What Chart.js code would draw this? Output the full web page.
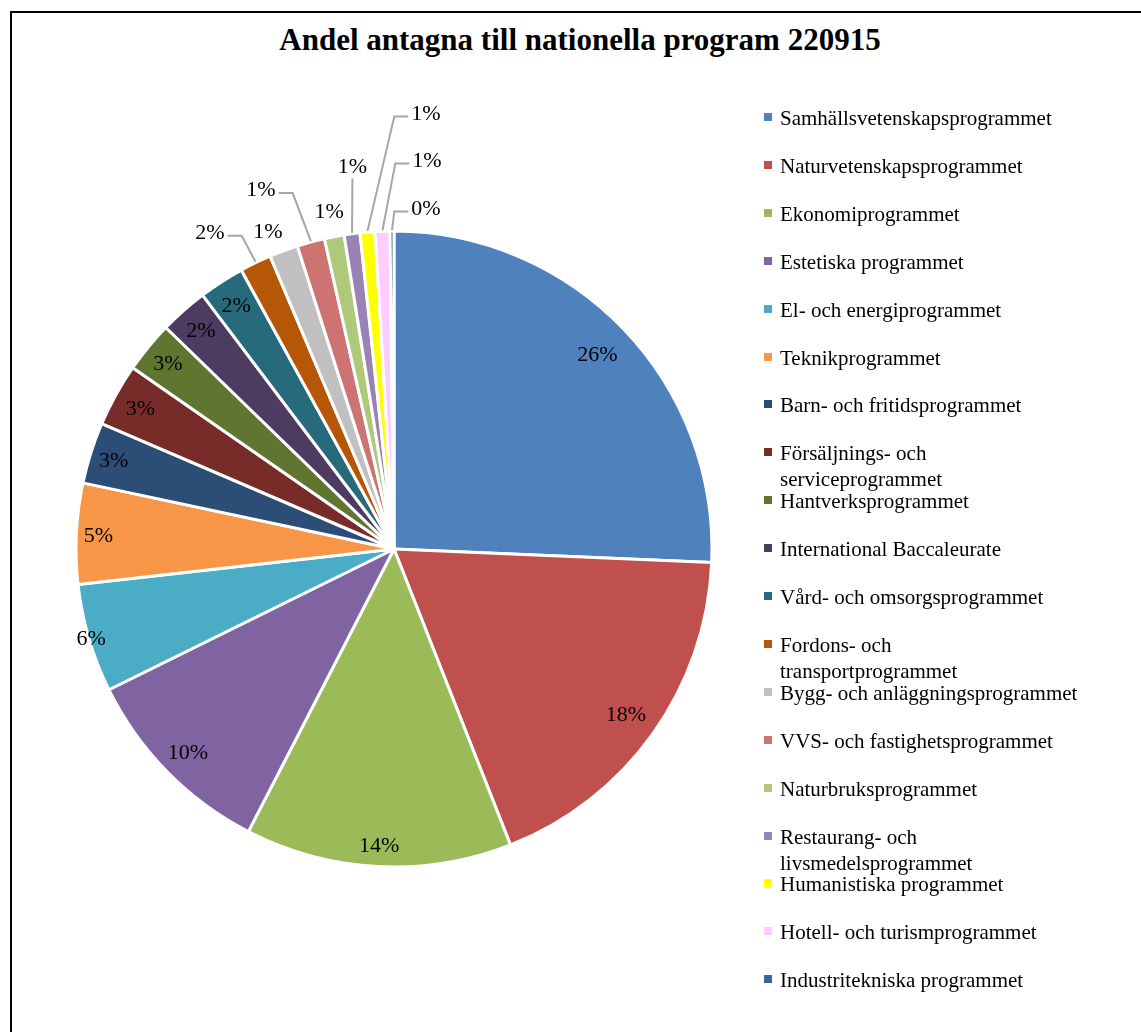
<!DOCTYPE html>
<html>
<head>
<meta charset="utf-8">
<title>Andel antagna till nationella program 220915</title>
<script src="https://cdn.jsdelivr.net/npm/chart.js@4.4.1/dist/chart.umd.min.js"></script>
<style>
  html, body { margin:0; padding:0; background:#fff; overflow:hidden; }
  body { width:1141px; height:1032px; position:relative; font-family:"Liberation Serif","Times New Roman",serif; color:#000; }
  #frame { position:absolute; left:10px; top:11px; width:1300px; height:1200px; border:2px solid #000; box-sizing:border-box; }
  #title { position:absolute; left:0; width:1160px; top:22px; text-align:center; font-weight:bold; font-size:31px; line-height:36px; white-space:nowrap; }
  #chart { position:absolute; left:0; top:0; }
  #legend { position:absolute; left:764px; top:0; }
  .item { position:absolute; left:0; white-space:nowrap; font-size:21px; line-height:26px; padding-left:16px; }
  .item i { position:absolute; left:0; top:8px; width:8px; height:8px; }
</style>
</head>
<body>
<div id="frame"></div>
<div id="title">Andel antagna till nationella program 220915</div>
<canvas id="chart" width="1141" height="1032"></canvas>
<div id="legend"></div>
<script>
/* ---------- data (share of admitted, %) ---------- */
const programs = [
  "Samhällsvetenskapsprogrammet",
  "Naturvetenskapsprogrammet",
  "Ekonomiprogrammet",
  "Estetiska programmet",
  "El- och energiprogrammet",
  "Teknikprogrammet",
  "Barn- och fritidsprogrammet",
  "Försäljnings- och serviceprogrammet",
  "Hantverksprogrammet",
  "International Baccaleurate",
  "Vård- och omsorgsprogrammet",
  "Fordons- och transportprogrammet",
  "Bygg- och anläggningsprogrammet",
  "VVS- och fastighetsprogrammet",
  "Naturbruksprogrammet",
  "Restaurang- och livsmedelsprogrammet",
  "Humanistiska programmet",
  "Hotell- och turismprogrammet",
  "Industritekniska programmet"
];
const shares = [25.6, 18.3, 13.5, 10.1, 5.5, 5.1, 3.1, 3.2, 2.6, 2.45, 2.3, 1.6, 1.45, 1.4, 1.0, 0.8, 0.75, 0.75, 0.2];

/* ---------- styles ---------- */
const colors = ['#4F81BD','#C0504D','#9BBB59','#8064A2','#4BACC6','#F79646','#2C4D75','#772C2A','#5F7530',
                '#4D3B62','#276A7C','#B65708','#C0C0C0','#CD7371','#AFC97A','#9983B5','#FFFF00','#FFCCFF','#3B6496'];
// radius factor for labels drawn inside the slices
const insideR = [0.886, 0.896, 0.931, 0.909, 0.992, 0.931, 0.925, 0.912, 0.921, 0.918, 0.915];
// small slices: label offset from the arc's outer midpoint + leader type
const callouts = {
  11: [-45.5, -31, 'h'],
  12: [-15.6, -19.8, null],
  13: [-49.8, -53, 'h'],
  14: [-5, -26, null],
  15: [0.4, -67.3, 'v'],
  16: [58.5, -119.6, 'h'],
  17: [44.5, -71.7, 'h'],
  18: [34, -23.5, 'h']
};
const legendWrap = [7, 11, 15];

/* ---------- labels plugin ---------- */
const pieLabels = {
  id: 'pieLabels',
  afterDatasetsDraw(chart){
    const ctx = chart.ctx;
    const meta = chart.getDatasetMeta(0);
    const total = shares.reduce((a,b)=>a+b, 0);
    ctx.save();
    ctx.font = '22px "Liberation Serif", serif';
    ctx.textAlign = 'center';
    ctx.textBaseline = 'alphabetic';
    ctx.fillStyle = '#000';
    meta.data.forEach((arc, i) => {
      const p = arc.getProps(['x','y','startAngle','endAngle','outerRadius'], true);
      const mid = (p.startAngle + p.endAngle) / 2;
      const txt = Math.round(shares[i] / total * 100) + '%';
      const c = callouts[i];
      if(!c){
        const r = p.outerRadius * (insideR[i] || 0.91);
        ctx.fillText(txt, p.x + Math.cos(mid)*r, p.y + Math.sin(mid)*r + 7);
        return;
      }
      const ex = p.x + Math.cos(mid)*p.outerRadius, ey = p.y + Math.sin(mid)*p.outerRadius;
      const lx = ex + c[0], ly = ey + c[1];
      ctx.fillText(txt, lx, ly + 7);
      const hw = ctx.measureText(txt).width / 2;
      ctx.strokeStyle = '#A6A6A6'; ctx.lineWidth = 2;
      ctx.beginPath();
      if(c[2] === 'h'){
        const dir = c[0] < 0 ? 1 : -1;
        const sx = lx + dir*(hw + 3), kx = lx + dir*(hw + 17), yy = ly + 4;
        ctx.moveTo(sx, yy); ctx.lineTo(kx, yy); ctx.lineTo(ex, ey - 1);
        ctx.stroke();
      } else if(c[2] === 'v'){
        ctx.moveTo(lx, ly + 12); ctx.lineTo(ex, ey - 1);
        ctx.stroke();
      }
    });
    ctx.restore();
  }
};

new Chart(document.getElementById('chart'), {
  type: 'pie',
  data: {
    labels: programs,
    datasets: [{ data: shares, backgroundColor: colors, borderColor: '#fff', borderWidth: 3 }]
  },
  options: {
    responsive: false,
    animation: false,
    layout: { padding: { left: 74.5, right: 427.5, top: 229.5, bottom: 163.5 } },
    plugins: { legend: { display: false }, tooltip: { enabled: false } }
  },
  plugins: [pieLabels]
});

/* ---------- legend (html) ---------- */
const legendEl = document.getElementById('legend');
programs.forEach((name, i) => {
  const d = document.createElement('div');
  d.className = 'item';
  d.style.top = (105 + 47.9*i) + 'px';
  const sw = document.createElement('i');
  sw.style.background = colors[i];
  d.appendChild(sw);
  if(legendWrap.includes(i)){
    const k = name.indexOf(' och ') + 4;
    d.appendChild(document.createTextNode(name.slice(0, k)));
    d.appendChild(document.createElement('br'));
    d.appendChild(document.createTextNode(name.slice(k + 1)));
  } else {
    d.appendChild(document.createTextNode(name));
  }
  legendEl.appendChild(d);
});
</script>
</body>
</html>
